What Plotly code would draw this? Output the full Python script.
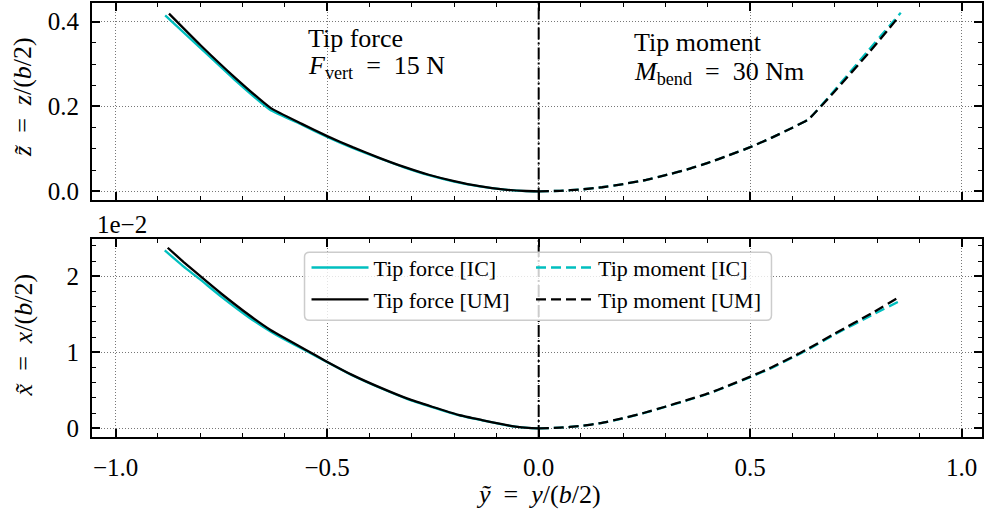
import plotly.graph_objects as go

# ---------------- data ----------------
# Top panel: z~ = z/(b/2)
force_um_y = [-0.874, -0.80, -0.72, -0.633, -0.56, -0.50, -0.44, -0.38, -0.32, -0.26, -0.20, -0.14, -0.08, -0.03, 0.0]
force_um_z = [0.419, 0.345, 0.270, 0.196, 0.159, 0.130, 0.104, 0.080, 0.058, 0.039, 0.024, 0.012, 0.004, 0.0006, 0.0]
force_ic_y = [-0.883, -0.80, -0.72, -0.636, -0.56, -0.50, -0.44, -0.38, -0.32, -0.26, -0.20, -0.14, -0.08, -0.03, 0.0]
force_ic_z = [0.415, 0.338, 0.264, 0.193, 0.157, 0.128, 0.102, 0.079, 0.057, 0.038, 0.023, 0.0115, 0.0038, 0.0005, 0.0]

moment_um_y = [0.0, 0.05, 0.10, 0.15, 0.20, 0.25, 0.30, 0.35, 0.40, 0.45, 0.50, 0.55, 0.60, 0.638, 0.70, 0.78, 0.850]
moment_um_z = [0.0, 0.001, 0.0042, 0.0095, 0.017, 0.026, 0.038, 0.051, 0.067, 0.085, 0.104, 0.126, 0.150, 0.170, 0.236, 0.326, 0.410]
moment_ic_y = [0.0, 0.05, 0.10, 0.15, 0.20, 0.25, 0.30, 0.35, 0.40, 0.45, 0.50, 0.55, 0.60, 0.638, 0.70, 0.78, 0.856]
moment_ic_z = [0.0, 0.001, 0.0042, 0.0095, 0.017, 0.026, 0.038, 0.051, 0.067, 0.085, 0.104, 0.126, 0.150, 0.170, 0.239, 0.333, 0.421]

# Bottom panel: x~ = x/(b/2), in units of 1e-2
force_um_y2 = [-0.877, -0.84, -0.802, -0.75, -0.684, -0.633, -0.605, -0.55, -0.505, -0.44, -0.37, -0.31, -0.252, -0.19, -0.134, -0.09, -0.055, -0.025, 0.0]
force_um_x = [2.375, 2.19, 2.01, 1.77, 1.487, 1.29, 1.20, 1.03, 0.89, 0.70, 0.525, 0.39, 0.284, 0.178, 0.109, 0.057, 0.023, 0.005, 0.0]
force_ic_y2 = [-0.884, -0.84, -0.802, -0.75, -0.684, -0.633, -0.605, -0.55, -0.505, -0.44, -0.37, -0.31, -0.252, -0.19, -0.134, -0.09, -0.055, -0.025, 0.0]
force_ic_x = [2.34, 2.13, 1.965, 1.73, 1.455, 1.27, 1.18, 1.02, 0.885, 0.695, 0.52, 0.385, 0.28, 0.175, 0.106, 0.055, 0.022, 0.005, 0.0]

moment_um_y2 = [0.0, 0.05, 0.098, 0.15, 0.197, 0.25, 0.299, 0.35, 0.401, 0.45, 0.499, 0.55, 0.60, 0.638, 0.70, 0.786, 0.850]
moment_um_x = [0.0, 0.008, 0.03, 0.072, 0.13, 0.205, 0.284, 0.37, 0.459, 0.565, 0.677, 0.80, 0.94, 1.05, 1.247, 1.51, 1.72]
moment_ic_y2 = [0.0, 0.05, 0.098, 0.15, 0.197, 0.25, 0.299, 0.35, 0.401, 0.45, 0.499, 0.55, 0.60, 0.638, 0.70, 0.786, 0.856]
moment_ic_x = [0.0, 0.008, 0.03, 0.071, 0.128, 0.203, 0.281, 0.366, 0.455, 0.56, 0.671, 0.792, 0.93, 1.04, 1.235, 1.485, 1.68]

x_ticks = [-1.0, -0.5, 0.0, 0.5, 1.0]
z_ticks = [0.0, 0.2, 0.4]
xt_ticks = [0, 1, 2]

labels = ["Tip force [IC]", "Tip force [UM]", "Tip moment [IC]", "Tip moment [UM]"]

# ---------------- style ----------------
FONT = "Liberation Serif, Times New Roman, serif"
CYAN = "#00bfbf"
BLACK = "#000000"
DASH = "10px,5px"
LW = 2.3
W, H = 985, 510
ML, MR, MT, MB = 92, 1, 2, 73
PW, PH = W - ML - MR, H - MT - MB
SP = "\u2002"


def px2paper(px, py):
    return (px - ML) / PW, (H - MB - py) / PH


fig = go.Figure()

series = [
    (force_ic_y, force_ic_z, force_ic_y2, force_ic_x, CYAN, "solid", labels[0], "legend"),
    (force_um_y, force_um_z, force_um_y2, force_um_x, BLACK, "solid", labels[1], "legend2"),
    (moment_ic_y, moment_ic_z, moment_ic_y2, moment_ic_x, CYAN, DASH, labels[2], "legend3"),
    (moment_um_y, moment_um_z, moment_um_y2, moment_um_x, BLACK, DASH, labels[3], "legend4"),
]
for ty, tz, by, bx, col, dash, name, lg in series:
    fig.add_trace(go.Scatter(x=ty, y=tz, mode="lines", name=name, legend=lg,
                             line=dict(color=col, width=LW, dash=dash, shape="spline", smoothing=0.4),
                             xaxis="x", yaxis="y", showlegend=True))
    fig.add_trace(go.Scatter(x=by, y=bx, mode="lines", name=name, legend=lg,
                             line=dict(color=col, width=LW, dash=dash, shape="spline", smoothing=0.4),
                             xaxis="x2", yaxis="y2", showlegend=False))

axis_common = dict(
    showline=True, linecolor="black", linewidth=2, mirror="ticks",
    ticks="inside", ticklen=8, tickwidth=1.5, tickcolor="black",
    showgrid=True, gridcolor="#777777", gridwidth=1, griddash="1px,2px",
    zeroline=False,
    tickfont=dict(family=FONT, size=25, color="black"),
)

top_bottom_split = 199
bot_top = 239
y1_dom = [(H - MB - top_bottom_split) / PH, 1.0]
y2_dom = [0.0, (H - MB - bot_top) / PH]

fig.update_layout(
    xaxis=dict(axis_common, domain=[0, 1], anchor="y", range=[-1.056, 1.048],
               tickvals=x_ticks, showticklabels=False,
               minor=dict(ticks="inside", ticklen=4, tickwidth=1.2, tickcolor="black", dtick=0.1, tick0=0, showgrid=False)),
    yaxis=dict(axis_common, domain=y1_dom, anchor="x", range=[-0.0195, 0.444],
               tickvals=z_ticks, tickformat=".1f", ticklabelstandoff=6,
               minor=dict(ticks="inside", ticklen=4, tickwidth=1.2, tickcolor="black", dtick=0.05, tick0=0, showgrid=False)),
    xaxis2=dict(axis_common, domain=[0, 1], anchor="y2", matches="x", range=[-1.056, 1.048],
                tickvals=x_ticks, tickformat=".1f", ticklabelstandoff=7,
                minor=dict(ticks="inside", ticklen=4, tickwidth=1.2, tickcolor="black", dtick=0.1, tick0=0, showgrid=False)),
    yaxis2=dict(axis_common, domain=y2_dom, anchor="x2", range=[-0.114, 2.484],
                tickvals=xt_ticks, tickformat="d", ticklabelstandoff=6,
                minor=dict(ticks="inside", ticklen=4, tickwidth=1.2, tickcolor="black", dtick=0.2, tick0=0, showgrid=False)),
    width=W, height=H,
    margin=dict(l=ML, r=MR, t=MT, b=MB),
    paper_bgcolor="white", plot_bgcolor="white",
    font=dict(family=FONT, size=24, color="black"),
)

# legends (one entry each, laid out as 2x2 grid)
leg_rows = [267.3, 299.3]
leg_cols = [307, 532]
leg_names = ["legend", "legend2", "legend3", "legend4"]
pos = [(0, 0), (0, 1), (1, 0), (1, 1)]
for lname, (c, r) in zip(leg_names, pos):
    lx, ly = px2paper(leg_cols[c], leg_rows[r])
    fig.update_layout({lname: dict(x=lx, y=ly, xanchor="left", yanchor="middle",
                                   bgcolor="rgba(0,0,0,0)", borderwidth=0,
                                   font=dict(family=FONT, size=22, color="black"),
                                   itemwidth=57)})

# vertical dash-dot lines at y~ = 0
shapes = []
for xr, yr in [("x", "y domain"), ("x2", "y2 domain")]:
    shapes.append(dict(type="line", xref=xr, yref=yr, x0=0, x1=0, y0=0, y1=1,
                       line=dict(color="black", width=2, dash="12px,3px,2px,3px"), layer="above"))

# legend frame (rounded)
bx0, by0 = px2paper(305, 320)
bx1, by1 = px2paper(773, 251.7)
rx, ry = 5 / PW, 5 / PH
path = (f"M {bx0+rx},{by0} L {bx1-rx},{by0} Q {bx1},{by0} {bx1},{by0+ry} "
        f"L {bx1},{by1-ry} Q {bx1},{by1} {bx1-rx},{by1} "
        f"L {bx0+rx},{by1} Q {bx0},{by1} {bx0},{by1-ry} "
        f"L {bx0},{by0+ry} Q {bx0},{by0} {bx0+rx},{by0} Z")
shapes.append(dict(type="path", xref="paper", yref="paper", path=path,
                   fillcolor="rgba(255,255,255,0.8)", line=dict(color="#cccccc", width=1.5), layer="above"))
fig.update_layout(shapes=shapes)

# annotations
ann = []


def add_text(text, px, py, size=26, xanchor="left", yanchor="middle", angle=0):
    x, y = px2paper(px, py)
    ann.append(dict(text=text, x=x, y=y, xref="paper", yref="paper", showarrow=False,
                    xanchor=xanchor, yanchor=yanchor, textangle=angle,
                    font=dict(family=FONT, size=size, color="black")))


add_text("Tip force", 306, 38)
add_text(f"<i>F</i><sub>vert</sub>{SP}={SP}15 N", 306, 66.5)
add_text("Tip moment", 633, 42)
add_text(f"<i>M</i><sub>bend</sub>{SP}={SP}30 Nm", 633, 72)
add_text(f"<i>z\u0303</i>{SP}={SP}<i>z</i>/(<i>b</i>/2)", 23, 96, xanchor="center", angle=-90)
add_text(f"<i>x\u0303</i>{SP}={SP}<i>x</i>/(<i>b</i>/2)", 23, 335, xanchor="center", angle=-90)
add_text("1e\u22122", 95, 224, size=25)
add_text(f"<i>y\u0303</i>{SP}={SP}<i>y</i>/(<i>b</i>/2)", 540, 495, xanchor="center")
fig.update_layout(annotations=ann)

fig.write_html("out.html")
